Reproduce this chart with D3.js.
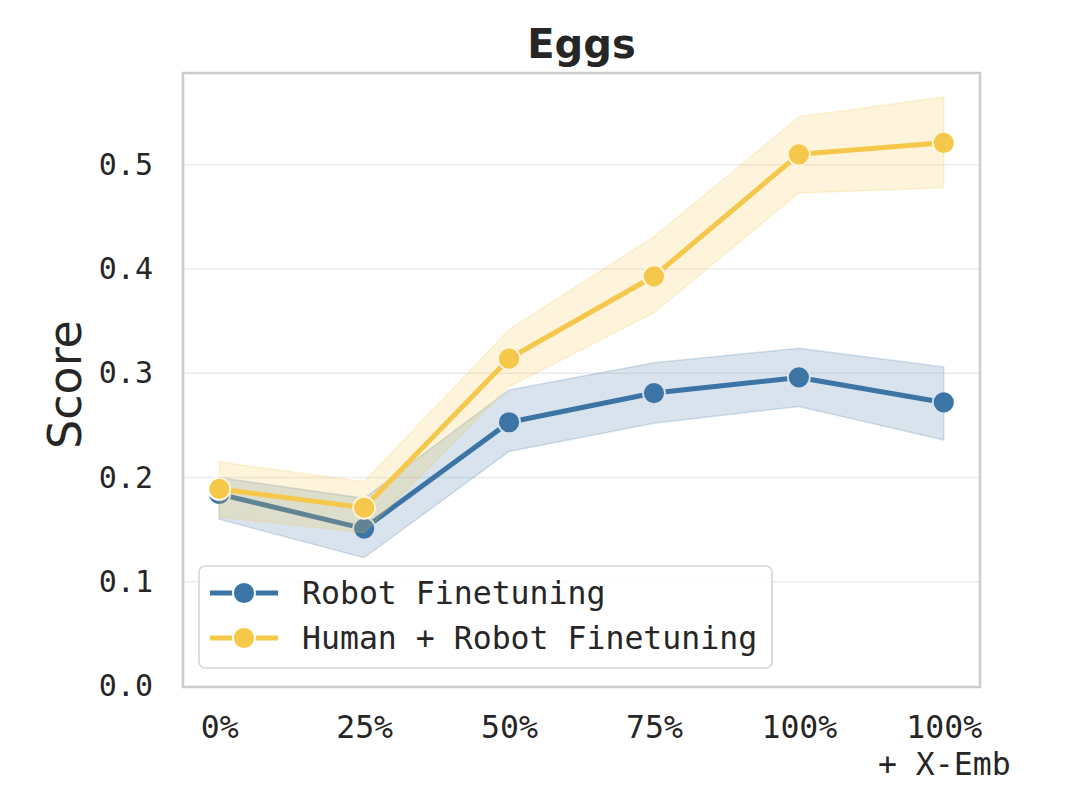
<!DOCTYPE html>
<html><head><meta charset="utf-8">
<script src="https://cdn.jsdelivr.net/npm/d3@7"></script>
<style>body{margin:0;background:#fff}</style>
</head><body>
<svg id="chart" width="1080" height="788"></svg>
<script>
const categories = ["0%", "25%", "50%", "75%", "100%", "100%\n+ X-Emb"];
const seriesNames = ["Robot Finetuning", "Human + Robot Finetuning"];
const robotMean  = [0.184, 0.151, 0.253, 0.281, 0.296, 0.272];
const robotLow   = [0.160, 0.123, 0.225, 0.252, 0.268, 0.236];
const robotHigh  = [0.200, 0.180, 0.284, 0.310, 0.324, 0.306];
const humanMean  = [0.189, 0.171, 0.314, 0.393, 0.510, 0.521];
const humanLow   = [0.162, 0.147, 0.287, 0.358, 0.473, 0.478];
const humanHigh  = [0.215, 0.196, 0.342, 0.431, 0.546, 0.565];
const yTicks = [0.0, 0.1, 0.2, 0.3, 0.4, 0.5];
const colors = ["#3b75a6", "#f6c94b"];

const svg = d3.select("#chart");
const L = 183, R = 980, T = 73, B = 686;
const x = d3.scaleLinear().domain([-0.25, categories.length - 0.75]).range([L, R]);
const y = d3.scaleLinear().domain([0, 0.588]).range([B, T]);

// grid
svg.append("g").selectAll("line").data(yTicks.filter(d => d > 0)).join("line")
  .attr("x1", L).attr("x2", R).attr("y1", d => y(d)).attr("y2", d => y(d))
  .attr("stroke", "#ebebeb").attr("stroke-width", 1.6);

// y axis
const yAxis = d3.axisLeft(y).tickValues(yTicks).tickFormat(d3.format(".1f")).tickSize(0).tickPadding(30);
const gy = svg.append("g").attr("transform", `translate(${L},0)`).call(yAxis);
gy.select(".domain").remove();
gy.selectAll("text").attr("font-family", "DejaVu Sans Mono").attr("font-size", 30).attr("fill", "#262626");

// x axis
const xAxis = d3.axisBottom(x).tickValues(d3.range(categories.length)).tickFormat(() => "").tickSize(0);
const gx = svg.append("g").attr("transform", `translate(0,${B})`).call(xAxis);
gx.select(".domain").remove();
gx.selectAll(".tick").each(function(d) {
  const lines = categories[d].split("\n");
  const t = d3.select(this).append("text").attr("fill", "#262626")
    .attr("font-family", "DejaVu Sans Mono").attr("font-size", 31.5).attr("text-anchor", "middle");
  lines.forEach((s, i) => t.append("tspan").attr("x", 0).attr("y", 52 + i * 37).text(s));
});

// y label
svg.append("text").attr("transform", `translate(81,${(T + B) / 2 + 5}) rotate(-90)`)
  .attr("text-anchor", "middle").attr("font-family", "DejaVu Sans").attr("font-size", 46)
  .attr("fill", "#262626").text("Score");

// title
svg.append("text").attr("x", (L + R) / 2).attr("y", 58).attr("text-anchor", "middle")
  .attr("font-family", "DejaVu Sans").attr("font-weight", "bold").attr("font-size", 40)
  .attr("fill", "#262626").text("Eggs");

const series = [
  {mean: robotMean, low: robotLow, high: robotHigh, color: colors[0]},
  {mean: humanMean, low: humanLow, high: humanHigh, color: colors[1]}
];
const area = d3.area().x((d, i) => x(i)).y0(d => y(d[0])).y1(d => y(d[1]));
const line = d3.line().x((d, i) => x(i)).y(d => y(d));

const plot = svg.append("g");
series.forEach(s => {
  plot.append("path").datum(s.mean).attr("d", line).attr("fill", "none")
    .attr("stroke", s.color).attr("stroke-width", 5).attr("stroke-linejoin", "round");
  plot.append("g").selectAll("circle").data(s.mean).join("circle")
    .attr("cx", (d, i) => x(i)).attr("cy", d => y(d)).attr("r", 11)
    .attr("fill", s.color).attr("stroke", "#fff").attr("stroke-width", 1.8);
  plot.append("path").datum(s.low.map((v, i) => [v, s.high[i]]))
    .attr("d", area).attr("fill", s.color).attr("fill-opacity", 0.2)
    .attr("stroke", s.color).attr("stroke-opacity", 0.2).attr("stroke-width", 1.5);
});

// frame
svg.append("rect").attr("x", L).attr("y", T).attr("width", R - L).attr("height", B - T + 1)
  .attr("fill", "none").attr("stroke", "#cccccc").attr("stroke-width", 2.5);

// legend
const lg = svg.append("g");
lg.append("rect").attr("x", 199).attr("y", 566).attr("width", 573).attr("height", 102).attr("rx", 6)
  .attr("fill", "#fff").attr("fill-opacity", 0.8).attr("stroke", "#d6d6d6").attr("stroke-width", 1.6);
seriesNames.forEach((name, i) => {
  const yy = 593 + i * 45;
  lg.append("line").attr("x1", 210).attr("x2", 278).attr("y1", yy).attr("y2", yy)
    .attr("stroke", colors[i]).attr("stroke-width", 5);
  lg.append("circle").attr("cx", 244).attr("cy", yy).attr("r", 11)
    .attr("fill", colors[i]).attr("stroke", "#fff").attr("stroke-width", 1.8);
  lg.append("text").attr("x", 302).attr("y", yy + 11).attr("font-family", "DejaVu Sans Mono")
    .attr("font-size", 31.5).attr("fill", "#262626").text(name);
});
</script>
</body></html>
